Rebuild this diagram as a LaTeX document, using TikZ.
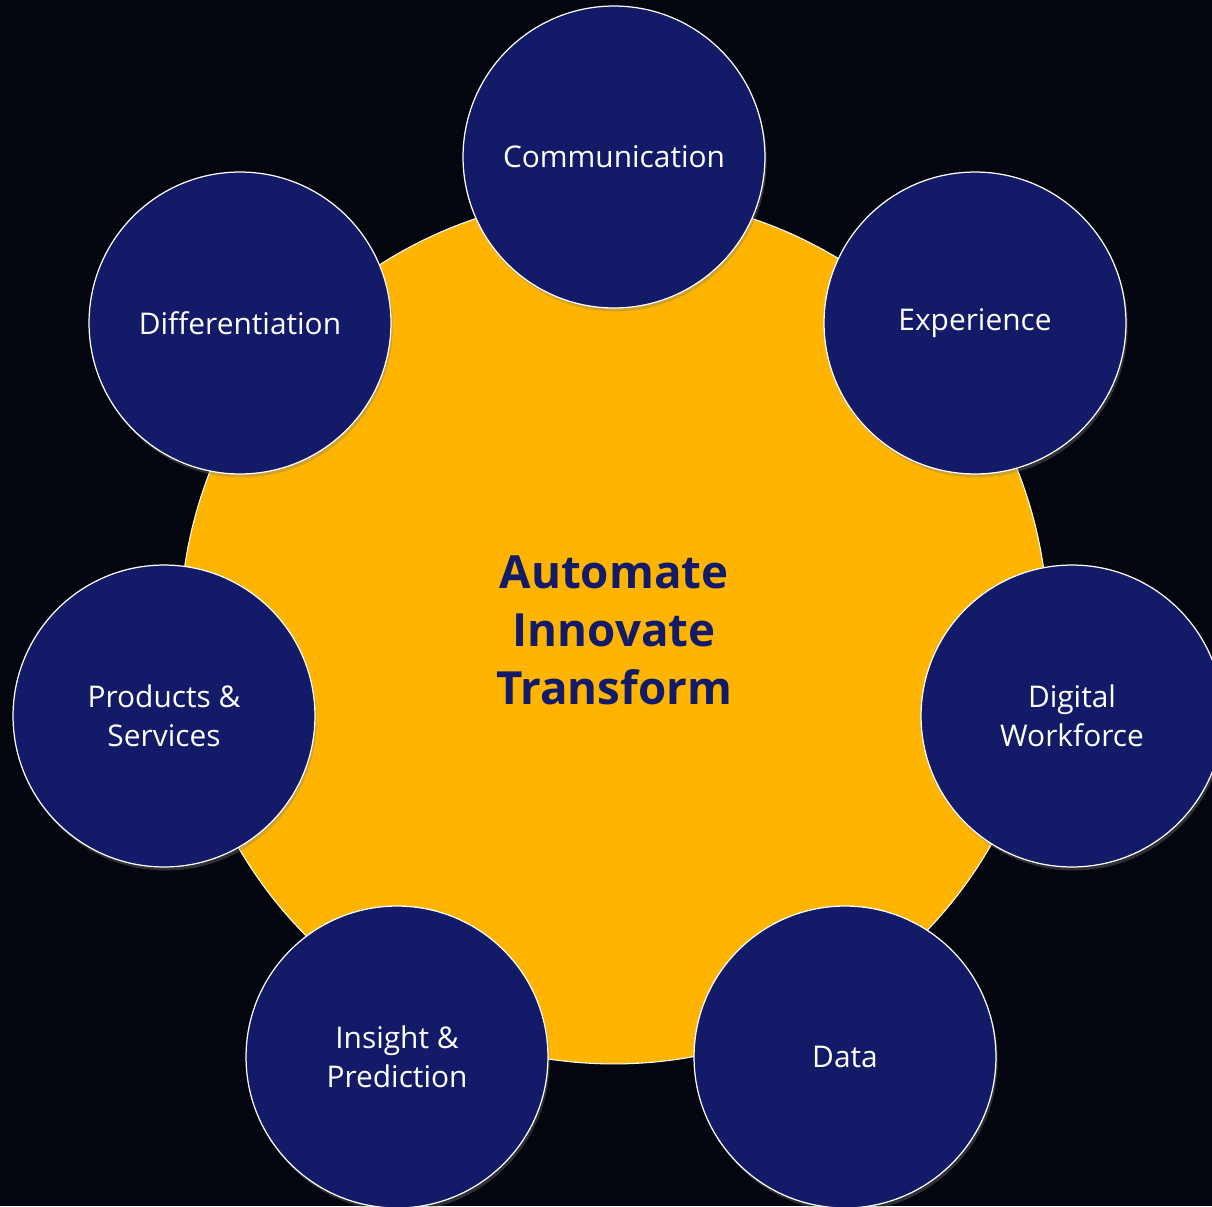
\documentclass[tikz,border=0pt]{standalone}
\usepackage{fontspec}
\setmainfont{Open Sans}
\usetikzlibrary{shadows}

\definecolor{bgdark}{HTML}{04060F}
\definecolor{coreamber}{HTML}{FFB400}
\definecolor{petalnavy}{HTML}{131A68}

\begin{document}
\begin{tikzpicture}[
    x=0.02cm, y=-0.02cm,
    core/.style={
        circle,
        draw=white,
        line width=0.6pt,
        fill=coreamber,
        minimum size=17.36cm,
        align=center,
        text=petalnavy,
        font=\fontsize{26}{33}\selectfont\bfseries
    },
    petal/.style={
        circle,
        draw=white,
        line width=0.7pt,
        fill=petalnavy,
        minimum size=6.04cm,
        align=center,
        text=white,
        font=\fontsize{17}{22}\selectfont,
        drop shadow={shadow xshift=1pt, shadow yshift=-2pt, opacity=0.35}
    }
]

% background
\fill[bgdark] (0,0) rectangle (1212,1206);
\useasboundingbox (0,0) rectangle (1212,1206);

% centre
\node[core] (core) at (614,630) {Automate\\Innovate\\Transform};

% the seven circles round it
\node[petal] (comm) at (614,157) {Communication};
\node[petal] (exper) at (975,323) {Experience};
\node[petal] (digwf) at (1072,716) {Digital\\Workforce};
\node[petal] (data) at (845,1057) {Data};
\node[petal] (insight) at (397,1057) {Insight \&\\Prediction};
\node[petal] (prodserv) at (164,716) {Products \&\\Services};
\node[petal] (diff) at (240,323) {Differentiation};

\end{tikzpicture}
\end{document}
